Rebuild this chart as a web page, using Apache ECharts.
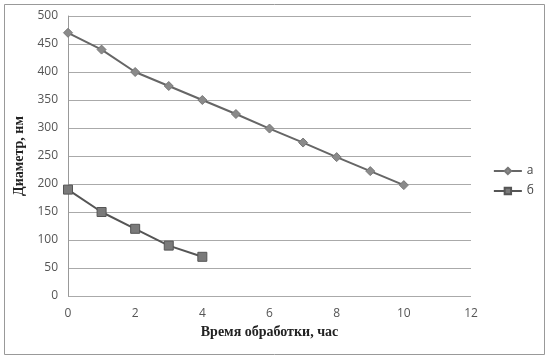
<!DOCTYPE html>
<html>
<head>
<meta charset="utf-8">
<script src="https://cdn.jsdelivr.net/npm/echarts@6/dist/echarts.min.js"></script>
<style>html,body{margin:0;padding:0;background:#fff;}#c{width:545px;height:358px;}</style>
</head>
<body>
<div id="c"></div>
<script>
var xTicks = [0, 2, 4, 6, 8, 10, 12];
var hoursA = [0, 1, 2, 3, 4, 5, 6, 7, 8, 9, 10];
var seriesA = [470, 440, 400, 375, 350, 325, 299, 274, 248, 223, 198];
var hoursB = [0, 1, 2, 3, 4];
var seriesB = [190, 150, 120, 90, 70];
var nameA = 'а';
var nameB = 'б';

var chart = echarts.init(document.getElementById('c'));
var tickFont = {color: '#555', fontSize: 12, fontFamily: 'Open Sans, Liberation Sans, sans-serif'};
var titleFont = {color: '#222', fontSize: 14, fontWeight: 'bold', fontFamily: 'Liberation Serif, DejaVu Serif, serif'};
chart.setOption({
  animation: false,
  backgroundColor: '#fff',
  graphic: [{
    type: 'rect', left: 2, top: 2,
    shape: {width: 540, height: 350},
    style: {fill: 'none', stroke: '#999', lineWidth: 1}
  }],
  grid: {left: 68, right: 74, top: 16, bottom: 62},
  legend: {
    orient: 'vertical', right: 6, top: 160, itemGap: 8,
    itemWidth: 28, itemHeight: 8, itemTextGap: 3,
    textStyle: {color: '#444', fontSize: 12, fontFamily: 'Open Sans, sans-serif'},
    data: [nameA, nameB]
  },
  xAxis: {
    type: 'value', min: 0, max: 12, interval: 2,
    name: 'Время обработки, час', nameLocation: 'middle', nameGap: 29,
    nameTextStyle: titleFont,
    axisLine: {show: false}, axisTick: {show: false},
    splitLine: {show: false},
    axisLabel: Object.assign({margin: 12, formatter: function(v){ return xTicks.indexOf(v) >= 0 ? String(v) : ''; }}, tickFont)
  },
  yAxis: {
    type: 'value', min: 0, max: 500, interval: 50,
    name: 'Диаметр, нм', nameLocation: 'middle', nameGap: 32,
    nameTextStyle: titleFont,
    axisLine: {show: true, lineStyle: {color: '#999'}},
    axisTick: {show: false},
    splitLine: {show: true, lineStyle: {color: '#aaa', width: 1}},
    axisLabel: Object.assign({margin: 10}, tickFont)
  },
  series: [{
    name: nameA, type: 'line',
    data: hoursA.map(function(h, i){ return [h, seriesA[i]]; }),
    symbol: 'diamond', symbolSize: 9,
    lineStyle: {color: '#666', width: 2},
    itemStyle: {color: '#8a8a8a', borderColor: '#777', borderWidth: 1}
  }, {
    name: nameB, type: 'line',
    data: hoursB.map(function(h, i){ return [h, seriesB[i]]; }),
    symbol: 'rect', symbolSize: 9,
    lineStyle: {color: '#555', width: 2},
    itemStyle: {color: '#7a7a7a', borderColor: '#555', borderWidth: 1}
  }]
});
</script>
</body>
</html>
